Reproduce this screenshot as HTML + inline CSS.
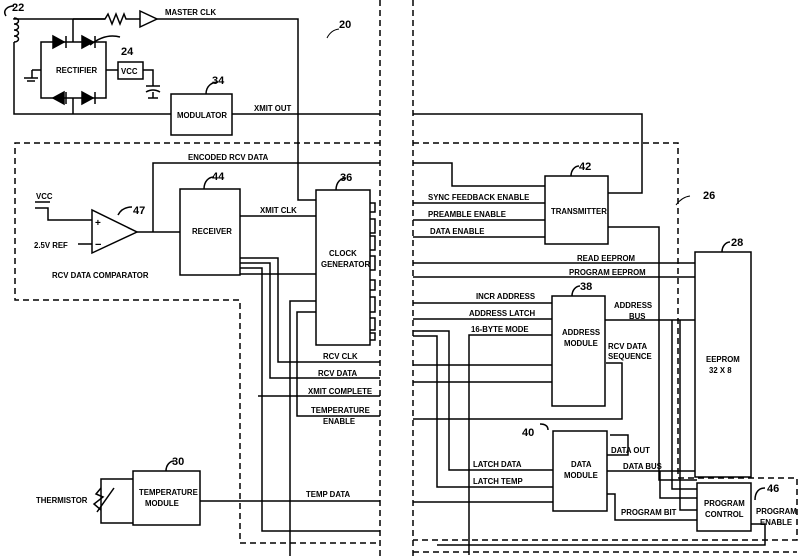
<!DOCTYPE html>
<html><head><meta charset="utf-8"><style>
html,body{margin:0;padding:0;background:#fff}
svg{display:block}
text{font-family:"Liberation Sans",sans-serif;font-size:7.8px;font-weight:bold;fill:#000}
.n{font-size:11px}
</style></head><body>
<svg width="798" height="556" viewBox="0 0 798 556" xmlns="http://www.w3.org/2000/svg">
<g fill="none" stroke="#000" stroke-width="1.5">
<g stroke-dasharray="6,4">
<line x1="380" y1="0" x2="380" y2="556"/>
<line x1="413" y1="0" x2="413" y2="556"/>
<polyline points="380,143 15,143 15,300 240,300 240,543 380,543"/>
<polyline points="413,143 678,143 678,478 760,478 797,478 797,540 413,540"/>
<line x1="413" y1="552" x2="797" y2="552"/>
</g>
<path d="M14,18 c6,0 6,6 0,6 c6,0 6,6 0,6 c6,0 6,6 0,6 c6,0 6,6 0,6"/>
<path d="M6,16 c-4,-6 2,-10 8,-10"/>
<polyline points="14,18 14,19 105,19"/>
<polyline points="14,42 14,114 171,114"/>
<polyline points="73,19 105,19 108,14 112,24 116,14 120,24 124,14 126,19 140,19"/>
<polygon points="140,11 140,27 157,19"/>
<polyline points="157,19 298,19 298,200 316,200"/>
<rect x="41" y="42" width="65" height="56"/>
<line x1="73" y1="19" x2="73" y2="42"/>
<line x1="73" y1="98" x2="73" y2="114"/>
<polygon points="53,36 53,48 64,42" fill="#000"/><line x1="66" y1="36" x2="66" y2="48"/>
<polygon points="82,36 82,48 93,42" fill="#000"/><line x1="95" y1="36" x2="95" y2="48"/>
<polygon points="64,92 64,104 53,98" fill="#000"/><line x1="66" y1="92" x2="66" y2="104"/>
<polygon points="82,92 82,104 93,98" fill="#000"/><line x1="95" y1="92" x2="95" y2="104"/>
<line x1="32" y1="70" x2="41" y2="70"/><line x1="32" y1="70" x2="32" y2="78"/>
<line x1="24" y1="78" x2="38" y2="78"/><line x1="27" y1="81" x2="35" y2="81"/>
<line x1="106" y1="70" x2="118" y2="70"/>
<rect x="118" y="62" width="25" height="17"/>
<polyline points="143,70 153,70 153,86"/>
<line x1="146" y1="86" x2="160" y2="86"/><path d="M146,92 q7,-4 14,0"/>
<line x1="153" y1="92" x2="153" y2="98"/><line x1="148" y1="98" x2="158" y2="98"/>
<path d="M90,45 q15,-12 30,-8"/>
<rect x="171" y="94" width="61" height="41"/>
<line x1="232" y1="114" x2="380" y2="114"/>
<polyline points="413,114 642,114 642,193 608,193"/>
<path d="M206,94 c0,-8 6,-12 12,-12"/>
<polyline points="153,232 153,163 380,163"/>
<polyline points="413,163 452,163 452,186 545,186"/>
<polygon points="92,210 92,253 137,232"/>
<polyline points="35,208 48,208 48,220 92,220"/>
<line x1="35" y1="202" x2="50" y2="202"/>
<line x1="78" y1="244" x2="92" y2="244"/>
<line x1="137" y1="232" x2="180" y2="232"/>
<path d="M118,215 q4,-8 14,-8"/>
<rect x="180" y="189" width="60" height="86"/>
<path d="M204,189 c0,-8 5,-12 10,-12"/>
<line x1="240" y1="216" x2="316" y2="216"/>
<rect x="316" y="190" width="54" height="155"/>
<path d="M336,190 c0,-8 5,-12 10,-12"/>
<polyline points="370,203 375,203 375,212 370,212"/>
<polyline points="370,219 375,219 375,233 370,233"/>
<polyline points="370,236 375,236 375,250 370,250"/>
<polyline points="370,256 375,256 375,270 370,270"/>
<polyline points="370,280 375,280 375,290 370,290"/>
<polyline points="370,297 375,297 375,312 370,312"/>
<polyline points="370,318 375,318 375,330 370,330"/>
<polyline points="370,333 375,333 375,340 370,340"/>
<polyline points="240,258 278,258 278,362 380,362"/>
<polyline points="240,263 270,263 270,378 380,378"/>
<polyline points="240,268 262,268 262,531 380,531"/>
<line x1="240" y1="274" x2="316" y2="274"/>
<line x1="258" y1="396" x2="380" y2="396"/>
<polyline points="316,301 290,301 290,556"/>
<polyline points="316,312 297,312 297,416 380,416"/>
<rect x="133" y="471" width="67" height="54"/>
<path d="M166,471 c0,-6 4,-10 8,-10"/>
<polyline points="133,479 101,479 101,523 133,523"/>
<polyline points="101,488 96,494 103,497 94,504 101,510"/>
<line x1="97" y1="512" x2="114" y2="488"/>
<line x1="200" y1="501" x2="380" y2="501"/>
<line x1="413" y1="203" x2="545" y2="203"/>
<line x1="413" y1="220" x2="545" y2="220"/>
<line x1="413" y1="237" x2="545" y2="237"/>
<rect x="545" y="176" width="63" height="68"/>
<path d="M571,176 c0,-6 4,-10 8,-10"/>
<polyline points="608,227 659,227 659,480 697,480"/>
<line x1="413" y1="263" x2="695" y2="263"/>
<line x1="413" y1="277" x2="695" y2="277"/>
<rect x="695" y="252" width="56" height="225"/>
<path d="M722,252 c0,-6 4,-10 8,-10"/>
<line x1="413" y1="303" x2="552" y2="303"/>
<line x1="413" y1="319" x2="552" y2="319"/>
<polyline points="469,555 469,335 552,335"/>
<rect x="552" y="296" width="53" height="110"/>
<path d="M572,296 c0,-6 4,-10 8,-10"/>
<line x1="605" y1="320" x2="695" y2="320"/>
<polyline points="672,320 672,489 697,489"/>
<polyline points="680,320 680,510 697,510"/>
<polyline points="413,331 449,331 449,470 553,470"/>
<polyline points="413,336 437,336 437,487 553,487"/>
<line x1="413" y1="365" x2="552" y2="365"/>
<line x1="413" y1="382" x2="552" y2="382"/>
<polyline points="606,363 622,363 622,419 413,419"/>
<polyline points="413,502 553,502"/>
<rect x="553" y="431" width="54" height="80"/>
<path d="M548,430 c0,-4 -3,-6 -8,-6"/>
<polyline points="607,455 628,455 628,435 610,435"/>
<polyline points="607,471 695,471"/>
<polyline points="660,471 660,498 697,498"/>
<polyline points="607,494 615,494 615,520 697,520"/>
<rect x="697" y="483" width="54" height="48"/>
<path d="M755,500 c0,-8 4,-12 10,-12"/>
<polyline points="751,524 765,524 765,545 437,545"/>
</g>
<text class="n" x="12" y="11">22</text>
<text x="165" y="15">MASTER CLK</text>
<text class="n" x="339" y="28">20</text>
<path d="M327,38 q4,-8 12,-9" stroke="#000" fill="none"/>
<text x="56" y="73">RECTIFIER</text>
<text class="n" x="121" y="55">24</text>
<text x="121" y="74">VCC</text>
<text class="n" x="212" y="84">34</text>
<text x="177" y="118">MODULATOR</text>
<text x="254" y="111">XMIT OUT</text>
<text x="188" y="160">ENCODED RCV DATA</text>
<text class="n" x="212" y="180">44</text>
<text class="n" x="340" y="181">36</text>
<text x="36" y="199">VCC</text>
<text class="n" x="133" y="214">47</text>
<text x="192" y="234">RECEIVER</text>
<text x="260" y="213">XMIT CLK</text>
<text x="329" y="256">CLOCK</text>
<text x="321" y="267">GENERATOR</text>
<text x="34" y="248">2.5V REF</text>
<text x="95" y="226" style="font-size:10px">+</text>
<text x="95" y="248" style="font-size:11px">−</text>
<text x="52" y="278">RCV DATA COMPARATOR</text>
<text x="323" y="359">RCV CLK</text>
<text x="318" y="376">RCV DATA</text>
<text x="308" y="394">XMIT COMPLETE</text>
<text x="311" y="413">TEMPERATURE</text>
<text x="323" y="424">ENABLE</text>
<text class="n" x="172" y="465">30</text>
<text x="36" y="503">THERMISTOR</text>
<text x="139" y="495">TEMPERATURE</text>
<text x="145" y="506">MODULE</text>
<text x="306" y="497">TEMP DATA</text>
<text class="n" x="579" y="170">42</text>
<text x="551" y="214">TRANSMITTER</text>
<text class="n" x="703" y="199">26</text>
<path d="M676,205 q6,-8 14,-9" stroke="#000" fill="none"/>
<text x="428" y="200">SYNC FEEDBACK ENABLE</text>
<text x="428" y="217">PREAMBLE ENABLE</text>
<text x="430" y="234">DATA ENABLE</text>
<text class="n" x="731" y="246">28</text>
<text x="577" y="261">READ EEPROM</text>
<text x="569" y="275">PROGRAM EEPROM</text>
<text x="476" y="299">INCR ADDRESS</text>
<text x="469" y="316">ADDRESS LATCH</text>
<text x="471" y="332">16-BYTE MODE</text>
<text class="n" x="580" y="290">38</text>
<text x="614" y="308">ADDRESS</text>
<text x="629" y="319">BUS</text>
<text x="562" y="335">ADDRESS</text>
<text x="564" y="346">MODULE</text>
<text x="608" y="349">RCV DATA</text>
<text x="608" y="359">SEQUENCE</text>
<text x="706" y="362">EEPROM</text>
<text x="709" y="373">32 X 8</text>
<text class="n" x="522" y="436">40</text>
<text x="611" y="453">DATA OUT</text>
<text x="623" y="469">DATA BUS</text>
<text x="571" y="467">DATA</text>
<text x="564" y="478">MODULE</text>
<text x="473" y="467">LATCH DATA</text>
<text x="473" y="484">LATCH TEMP</text>
<text x="621" y="515">PROGRAM BIT</text>
<text class="n" x="767" y="492">46</text>
<text x="704" y="506">PROGRAM</text>
<text x="705" y="517">CONTROL</text>
<text x="756" y="514">PROGRAM</text>
<text x="760" y="525">ENABLE</text>
</svg>
</body></html>
